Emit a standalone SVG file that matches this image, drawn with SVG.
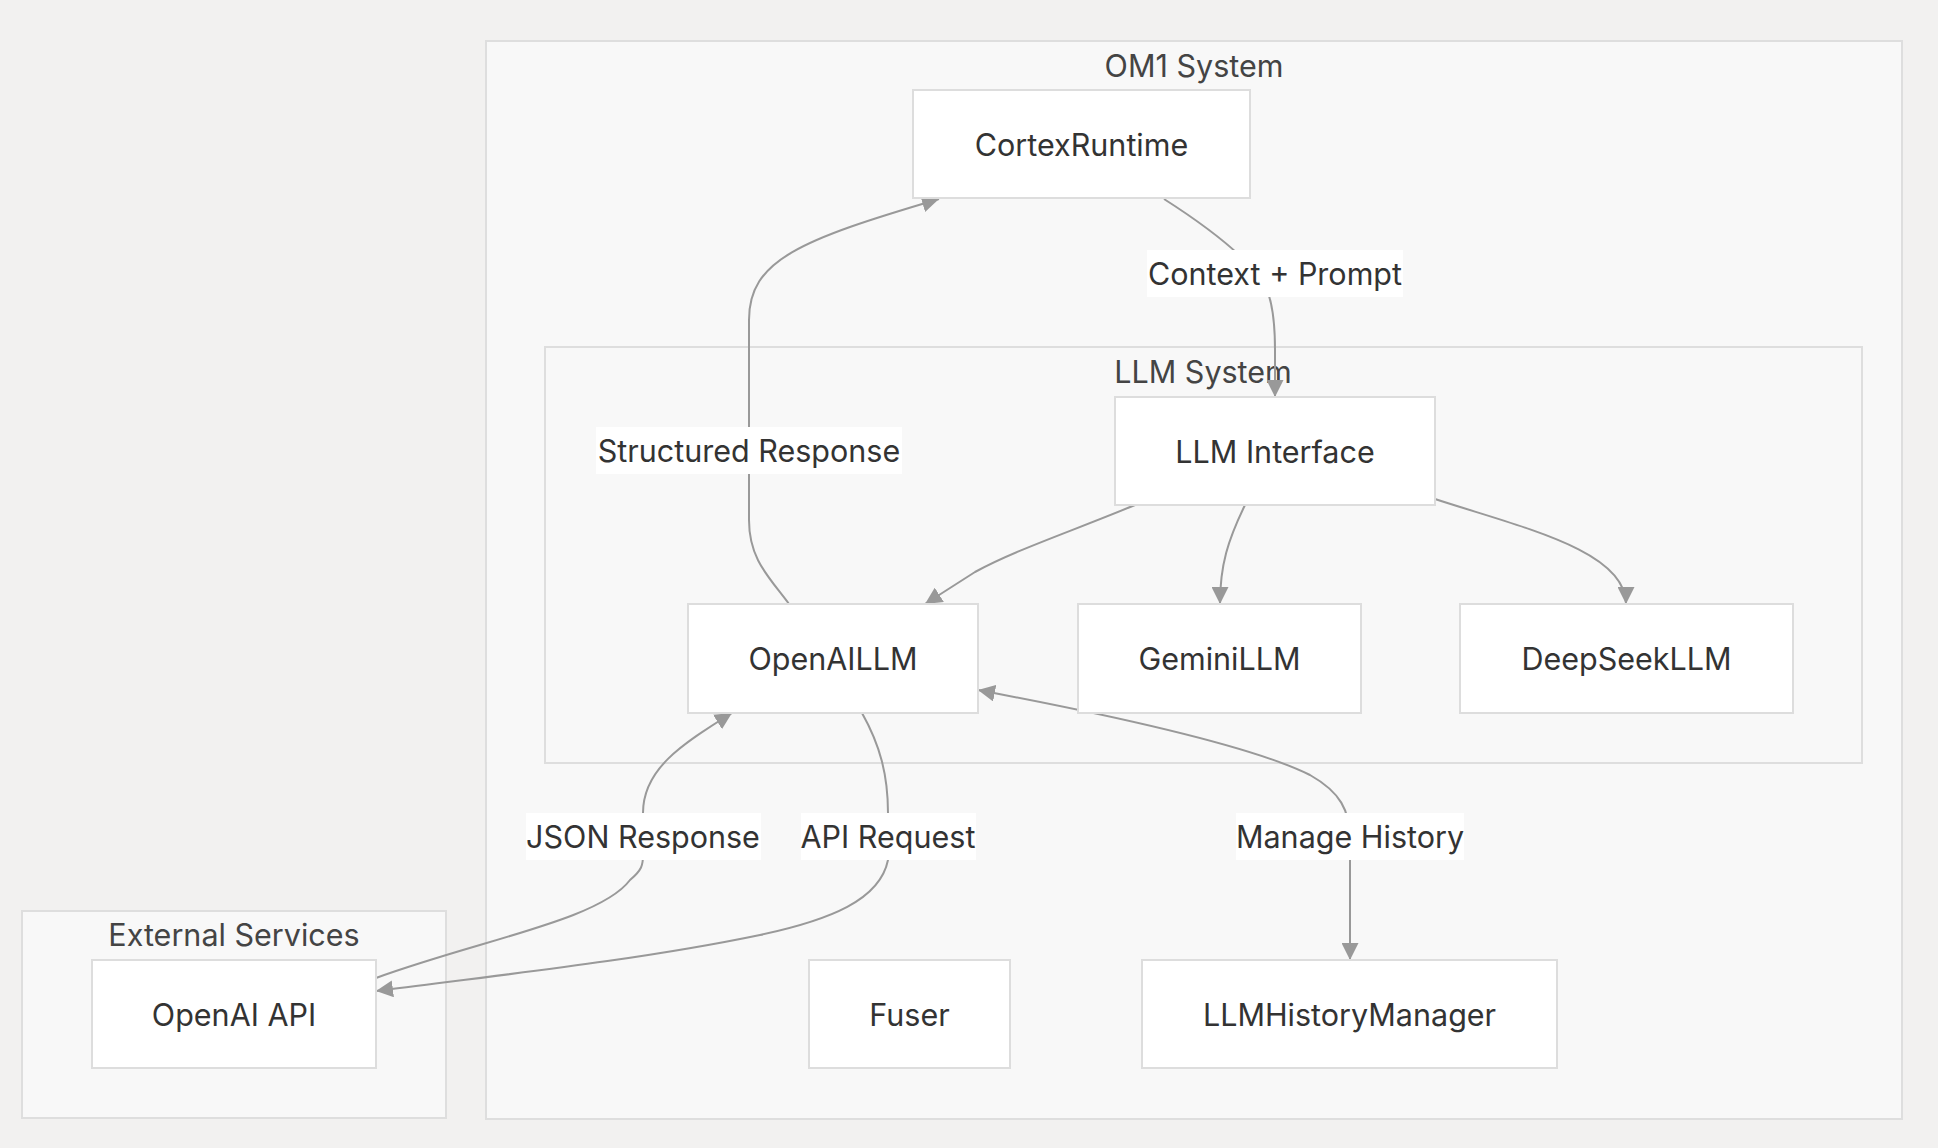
<svg xmlns="http://www.w3.org/2000/svg" width="1938" height="1148" viewBox="0 0 1938 1148">
<style>
.bg{fill:#f2f1f0}
.cluster{fill:#f8f8f8;stroke:#dedede;stroke-width:2}
.node rect{fill:#ffffff;stroke:#dddddd;stroke-width:2}
text{font-family:Inter,"Liberation Sans",sans-serif;font-size:30.5px;fill:#333333;text-anchor:middle}
.title{fill:#444444}
.edge{fill:none;stroke:#999999;stroke-width:2}
.lbl rect{fill:#ffffff}
</style>
<defs>
<marker id="arr" viewBox="0 0 10 10" refX="10" refY="5" markerWidth="17" markerHeight="17" markerUnits="userSpaceOnUse" orient="auto-start-reverse">
<path d="M0,0 L10,5 L0,10 z" fill="#999999"/>
</marker>
</defs>
<rect class="bg" x="0" y="0" width="1938" height="1148"/>
<g id="cluster-om1">
<rect class="cluster" x="486" y="41" width="1416" height="1078"/>
<text class="title" x="1194" y="77">OM1 System</text>
</g>
<g id="cluster-external">
<rect class="cluster" x="22" y="911" width="424" height="207"/>
<text class="title" x="234" y="946">External Services</text>
</g>
<g id="cluster-llm">
<rect class="cluster" x="545" y="347" width="1317" height="416"/>
<text class="title" x="1203" y="383">LLM System</text>
</g>
<g id="connectors">
<path class="edge" d="M789,604 C770,578 749,560 749,520 L749,320 C749,260 800,240 939,199" marker-end="url(#arr)"/>
<path class="edge" d="M1164,199 C1200,222 1240,250 1262,280 C1272,295 1275,320 1275,350 L1275,397" marker-end="url(#arr)"/>
<path class="edge" d="M1135,505 C1070,532 1015,550 975,572 L925,604" marker-end="url(#arr)"/>
<path class="edge" d="M1245,505 C1228,540 1220,565 1220,604" marker-end="url(#arr)"/>
<path class="edge" d="M1435,499 C1520,527 1626,550 1626,604" marker-end="url(#arr)"/>
<path class="edge" d="M978,690 C1100,713 1250,745 1310,775 C1340,792 1350,810 1350,840 L1350,960" marker-start="url(#arr)" marker-end="url(#arr)"/>
<path class="edge" d="M862,713 C880,745 888,775 888,813 L888,860 C880,900 830,920 760,935 C640,960 500,975 376,991" marker-end="url(#arr)"/>
<path class="edge" d="M376,978 C480,940 600,920 630,880 C642,870 643,865 643,855 L643,813 C643,770 680,745 732,713" marker-end="url(#arr)"/>
</g>
<g id="edge-labels">
<g class="lbl"><rect x="1147" y="250" width="256" height="47"/><text x="1275" y="285">Context + Prompt</text></g>
<g class="lbl"><rect x="596" y="427" width="306" height="47"/><text x="749" y="462">Structured Response</text></g>
<g class="lbl"><rect x="526" y="813" width="235" height="47"/><text x="643" y="848">JSON Response</text></g>
<g class="lbl"><rect x="801" y="813" width="175" height="47"/><text x="888" y="848">API Request</text></g>
<g class="lbl"><rect x="1236" y="813" width="228" height="47"/><text x="1350" y="848">Manage History</text></g>
</g>
<g id="node-cortex" class="node"><rect x="913" y="90" width="337" height="108"/><text x="1081.5" y="156">CortexRuntime</text></g>
<g id="node-llminterface" class="node"><rect x="1115" y="397" width="320" height="108"/><text x="1275" y="463">LLM Interface</text></g>
<g id="node-openaillm" class="node"><rect x="688" y="604" width="290" height="109"/><text x="833" y="670">OpenAILLM</text></g>
<g id="node-gemini" class="node"><rect x="1078" y="604" width="283" height="109"/><text x="1219.5" y="670">GeminiLLM</text></g>
<g id="node-deepseek" class="node"><rect x="1460" y="604" width="333" height="109"/><text x="1626.5" y="670">DeepSeekLLM</text></g>
<g id="node-fuser" class="node"><rect x="809" y="960" width="201" height="108"/><text x="909.5" y="1026">Fuser</text></g>
<g id="node-history" class="node"><rect x="1142" y="960" width="415" height="108"/><text x="1349.5" y="1026">LLMHistoryManager</text></g>
<g id="node-openaiapi" class="node"><rect x="92" y="960" width="284" height="108"/><text x="234" y="1026">OpenAI API</text></g>
</svg>
